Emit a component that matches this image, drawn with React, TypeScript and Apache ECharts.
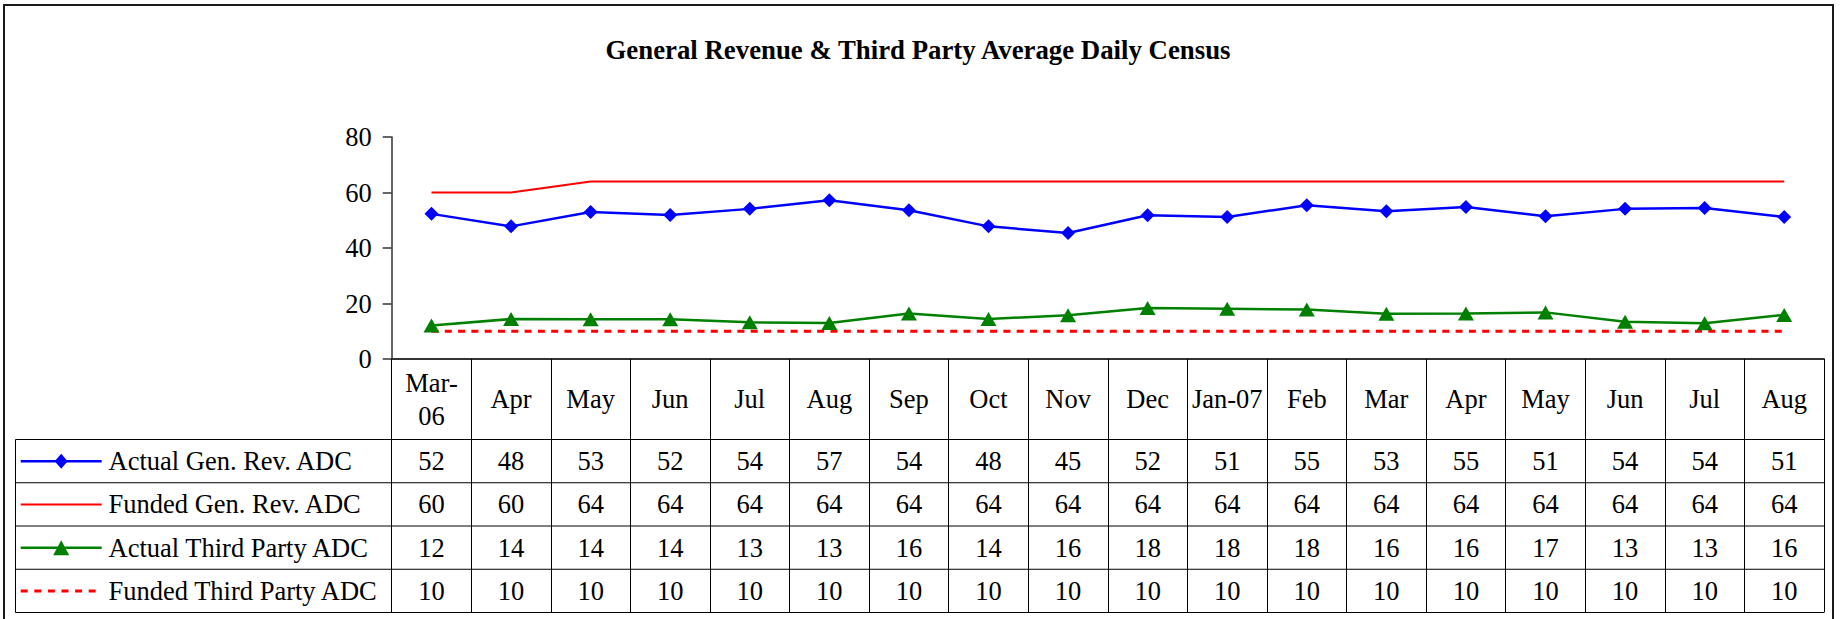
import React, { useEffect, useRef } from 'react';
import * as echarts from 'echarts';

const FONT = '"Liberation Serif", "Times New Roman", Times, serif';

const chartTitle = 'General Revenue & Third Party Average Daily Census';

const categories = [
  'Mar-\n06', 'Apr', 'May', 'Jun', 'Jul', 'Aug', 'Sep', 'Oct', 'Nov', 'Dec',
  'Jan-07', 'Feb', 'Mar', 'Apr', 'May', 'Jun', 'Jul', 'Aug',
];

const actualGenRev = [
  52.3, 47.8, 53.0, 51.9, 54.1, 57.2, 53.6, 47.8, 45.4, 51.8,
  51.2, 55.4, 53.2, 54.8, 51.4, 54.1, 54.4, 51.2,
];
const fundedGenRev = [
  60, 60, 64, 64, 64, 64, 64, 64, 64, 64, 64, 64, 64, 64, 64, 64, 64, 64,
];
const actualThirdParty = [
  12.1, 14.4, 14.3, 14.3, 13.2, 13.0, 16.4, 14.4, 15.8, 18.4,
  18.1, 17.8, 16.3, 16.4, 16.8, 13.4, 12.9, 15.9,
];
const fundedThirdParty = [
  10, 10, 10, 10, 10, 10, 10, 10, 10, 10, 10, 10, 10, 10, 10, 10, 10, 10,
];

const seriesNames = [
  'Actual Gen. Rev. ADC',
  'Funded Gen. Rev. ADC',
  'Actual Third Party ADC',
  'Funded Third Party ADC',
];

const yMin = 0;
const yMax = 80;
const yInterval = 20;

export default function App() {
  const ref = useRef<HTMLDivElement>(null);

  useEffect(() => {
    if (!ref.current) return;
    const chart = echarts.init(ref.current, null, { renderer: 'svg' });

    const gridLeft = 391.7;
    const gridTop = 137;
    const gridRight = 1824;
    const gridBottom = 359;
    const tableLeft = 15.5;
    const rowLines = [439.5, 482.75, 526, 569.25, 612.5];
    const rowCenters = [0, 1, 2, 3].map((i) => (rowLines[i] + rowLines[i + 1]) / 2);
    const headerCenter = (gridBottom + rowLines[0]) / 2;
    const FS = 26.5;

    const rows = [actualGenRev, fundedGenRev, actualThirdParty, fundedThirdParty];
    const labelBase = { fontSize: FS, fontFamily: FONT, color: '#000' };

    const valueAxes = rows.map((row, i) => ({
      type: 'category',
      gridIndex: 0,
      position: 'bottom',
      data: row.map((v) => String(Math.round(v))),
      axisLine: { show: false },
      axisTick: { show: false },
      splitLine: { show: false },
      axisLabel: {
        ...labelBase,
        interval: 0,
        margin: rowCenters[i] - gridBottom,
        verticalAlign: 'middle',
      },
      silent: true,
    }));

    // legend keys drawn in the table's left column
    const keyX1 = 20.7;
    const keyX2 = 101.7;
    const keyMid = (keyX1 + keyX2) / 2;
    const keyColors = ['#0000ff', '#ff0000', '#008000', '#ff0000'];
    const keyWidths = [2.5, 2, 2.5, 3];
    const legendItems: any[] = [];
    seriesNames.forEach((name, i) => {
      const y = rowCenters[i];
      legendItems.push({
        type: 'line',
        shape: { x1: keyX1, y1: y, x2: keyX2, y2: y },
        style: {
          stroke: keyColors[i],
          lineWidth: keyWidths[i],
          lineDash: i === 3 ? [7, 6.6] : null,
        },
        silent: true,
      });
      if (i === 0) {
        legendItems.push({
          type: 'polygon',
          shape: {
            points: [
              [keyMid, y - 7.5],
              [keyMid + 6.5, y],
              [keyMid, y + 7.5],
              [keyMid - 6.5, y],
            ],
          },
          style: { fill: keyColors[i] },
          silent: true,
        });
      }
      if (i === 2) {
        legendItems.push({
          type: 'polygon',
          shape: {
            points: [
              [keyMid, y - 7.5],
              [keyMid + 8, y + 7.5],
              [keyMid - 8, y + 7.5],
            ],
          },
          style: { fill: keyColors[i] },
          silent: true,
        });
      }
      legendItems.push({
        type: 'text',
        x: 108.5,
        y: y,
        style: {
          text: name,
          fontSize: FS,
          fontFamily: FONT,
          fill: '#000',
          align: 'left',
          verticalAlign: 'middle',
        },
        silent: true,
      });
    });

    const graphics: any[] = [
      {
        type: 'rect',
        shape: { x: 4, y: 5, width: 1829, height: 620 },
        style: { fill: 'none', stroke: '#1a1a1a', lineWidth: 2 },
        silent: true,
      },
      {
        type: 'text',
        x: 918,
        y: 50,
        style: {
          text: chartTitle,
          fontSize: 26.8,
          fontWeight: 'bold',
          fontFamily: FONT,
          fill: '#000',
          align: 'center',
          verticalAlign: 'middle',
        },
        silent: true,
      },
      {
        type: 'line',
        shape: { x1: tableLeft, y1: rowLines[0], x2: tableLeft, y2: rowLines[4] },
        style: { stroke: '#000', lineWidth: 1 },
        silent: true,
      },
      ...rowLines.map((y) => ({
        type: 'line',
        shape: { x1: tableLeft, y1: y, x2: gridRight, y2: y },
        style: { stroke: '#000', lineWidth: 1 },
        silent: true,
      })),
      ...legendItems,
    ];

    chart.setOption({
      animation: false,
      backgroundColor: '#fff',
      grid: {
        left: gridLeft,
        top: gridTop,
        width: gridRight - gridLeft,
        height: gridBottom - gridTop,
        containLabel: false,
        outerBoundsMode: 'none',
      },
      xAxis: [
        {
          type: 'category',
          gridIndex: 0,
          position: 'bottom',
          data: categories,
          boundaryGap: true,
          axisLine: { show: true, lineStyle: { color: '#333', width: 2 } },
          axisTick: {
            show: true,
            interval: 0,
            inside: false,
            length: rowLines[4] - gridBottom,
            lineStyle: { color: '#000', width: 1 },
          },
          splitLine: { show: false },
          axisLabel: {
            ...labelBase,
            interval: 0,
            margin: headerCenter - gridBottom,
            verticalAlign: 'middle',
            lineHeight: 33,
          },
        },
        ...valueAxes,
      ],
      yAxis: {
        type: 'value',
        min: yMin,
        max: yMax,
        interval: yInterval,
        axisLine: { show: true, lineStyle: { color: '#333', width: 1.5 } },
        axisTick: { show: true, length: 9, lineStyle: { color: '#333', width: 1.5 } },
        splitLine: { show: false },
        axisLabel: { ...labelBase, margin: 20 },
      },
      series: [
        {
          name: seriesNames[3],
          type: 'line',
          data: fundedThirdParty,
          symbol: 'none',
          color: '#ff0000',
          lineStyle: { color: '#ff0000', width: 3, type: [7, 6.3] },
        },
        {
          name: seriesNames[1],
          type: 'line',
          data: fundedGenRev,
          symbol: 'none',
          color: '#ff0000',
          lineStyle: { color: '#ff0000', width: 2 },
        },
        {
          name: seriesNames[2],
          type: 'line',
          data: actualThirdParty,
          symbol: 'triangle',
          symbolSize: [16, 14],
          color: '#008000',
          itemStyle: { color: '#008000', borderWidth: 0 },
          lineStyle: { color: '#008000', width: 2.5 },
        },
        {
          name: seriesNames[0],
          type: 'line',
          data: actualGenRev,
          symbol: 'diamond',
          symbolSize: 14,
          color: '#0000ff',
          itemStyle: { color: '#0000ff', borderWidth: 0 },
          lineStyle: { color: '#0000ff', width: 2.5 },
        },
      ],
      graphic: graphics,
    });

    return () => {
      chart.dispose();
    };
  }, []);

  return (
    <div
      ref={ref}
      style={{ position: 'fixed', left: 0, top: 0, width: 1843, height: 619 }}
    />
  );
}
